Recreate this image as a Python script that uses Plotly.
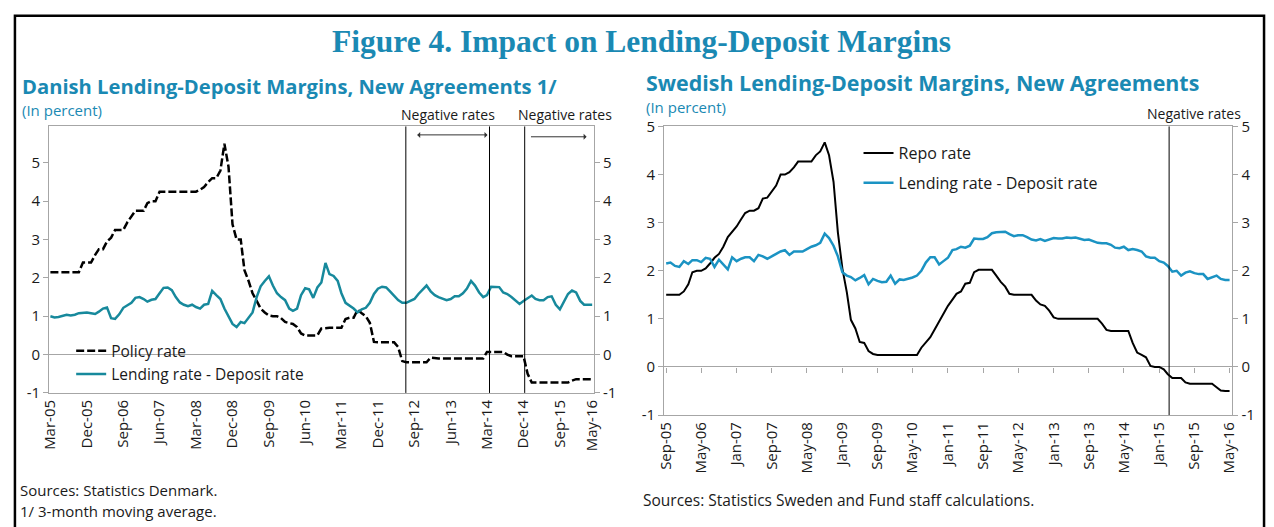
import pandas as pd
import plotly.graph_objects as go

# ---------------- data ----------------
dk_start = "2005-03-01"
dk_policy_rate = [
    2.15, 2.15, 2.15, 2.15, 2.15, 2.15, 2.15, 2.15, 2.4, 2.4,
    2.4, 2.6, 2.75, 2.75, 2.95, 3.05, 3.25, 3.25, 3.25, 3.45,
    3.6, 3.75, 3.75, 3.75, 3.95, 4.0, 4.0, 4.25, 4.25, 4.25,
    4.25, 4.25, 4.25, 4.25, 4.25, 4.25, 4.25, 4.3, 4.37, 4.5,
    4.6, 4.6, 4.8, 5.5, 4.9, 3.4, 3.0, 3.0, 2.2, 1.92,
    1.6, 1.4, 1.2, 1.1, 1.02, 1.0, 1.0, 0.95, 0.85, 0.82,
    0.8, 0.72, 0.55, 0.5, 0.5, 0.5, 0.5, 0.68, 0.7, 0.7,
    0.7, 0.7, 0.7, 0.93, 0.96, 0.96, 1.17, 1.08, 1.0, 0.83,
    0.33, 0.32, 0.32, 0.32, 0.32, 0.32, 0.2, -0.17, -0.2, -0.2,
    -0.2, -0.2, -0.2, -0.2, -0.08, -0.1, -0.1, -0.1, -0.1, -0.1,
    -0.1, -0.1, -0.1, -0.1, -0.1, -0.1, -0.1, -0.1, 0.07, 0.07,
    0.07, 0.07, 0.07, 0.0, -0.04, -0.04, -0.04, -0.04, -0.5, -0.73,
    -0.73, -0.73, -0.73, -0.73, -0.73, -0.73, -0.73, -0.73, -0.73, -0.68,
    -0.64, -0.64, -0.64, -0.64, -0.64,
]
dk_margin = [
    1.0, 0.97, 0.98, 1.02, 1.04, 1.02, 1.04, 1.08, 1.1, 1.1,
    1.08, 1.06, 1.12, 1.2, 1.23, 0.95, 0.93, 1.05, 1.22, 1.28,
    1.35, 1.48, 1.5, 1.45, 1.38, 1.43, 1.45, 1.6, 1.74, 1.75,
    1.68, 1.5, 1.36, 1.3, 1.26, 1.3, 1.24, 1.2, 1.3, 1.32,
    1.66, 1.55, 1.45, 1.2, 1.0, 0.8, 0.72, 0.85, 0.82, 0.95,
    1.1, 1.5, 1.78, 1.92, 2.04, 1.8, 1.6, 1.5, 1.42, 1.2,
    1.14, 1.2, 1.55, 1.73, 1.7, 1.48, 1.75, 1.88, 2.39, 2.1,
    2.05, 1.92, 1.6, 1.35, 1.28, 1.2, 1.1, 1.18, 1.22, 1.35,
    1.58, 1.72, 1.77, 1.75, 1.65, 1.52, 1.42, 1.35, 1.35, 1.4,
    1.45, 1.58, 1.7, 1.8, 1.65, 1.55, 1.5, 1.45, 1.42, 1.45,
    1.52, 1.52, 1.6, 1.72, 1.92, 1.8, 1.62, 1.5, 1.55, 1.77,
    1.77, 1.76, 1.62, 1.58, 1.5, 1.4, 1.32, 1.4, 1.48, 1.54,
    1.45, 1.42, 1.42, 1.5, 1.52, 1.3, 1.18, 1.38, 1.58, 1.67,
    1.62, 1.4, 1.3, 1.3, 1.3,
]
dk_tick_labels = ["Mar-05", "Dec-05", "Sep-06", "Jun-07", "Mar-08", "Dec-08",
                  "Sep-09", "Jun-10", "Mar-11", "Dec-11", "Sep-12", "Jun-13",
                  "Mar-14", "Dec-14", "Sep-15", "May-16"]
dk_negative_lines = ["2012-06-28", "2014-03-20", "2014-12-10"]

se_start = "2005-09-01"
se_repo_rate = [
    1.5, 1.5, 1.5, 1.5, 1.57, 1.72, 1.97, 2.0, 2.0, 2.05,
    2.15, 2.27, 2.35, 2.5, 2.7, 2.8, 2.92, 3.07, 3.2, 3.25,
    3.25, 3.3, 3.5, 3.52, 3.65, 3.77, 4.0, 4.0, 4.05, 4.15,
    4.27, 4.27, 4.27, 4.27, 4.4, 4.48, 4.67, 4.4, 3.85, 2.8,
    2.05, 1.55, 0.98, 0.8, 0.52, 0.5, 0.33, 0.27, 0.25, 0.25,
    0.25, 0.25, 0.25, 0.25, 0.25, 0.25, 0.25, 0.25, 0.4, 0.5,
    0.62, 0.78, 0.95, 1.1, 1.27, 1.4, 1.52, 1.57, 1.73, 1.75,
    1.97, 2.02, 2.02, 2.02, 2.02, 1.9, 1.77, 1.67, 1.52, 1.5,
    1.5, 1.5, 1.5, 1.5, 1.38, 1.3, 1.27, 1.17, 1.03, 1.0,
    1.0, 1.0, 1.0, 1.0, 1.0, 1.0, 1.0, 1.0, 1.0, 0.9,
    0.77, 0.75, 0.75, 0.75, 0.75, 0.75, 0.5, 0.3, 0.25, 0.2,
    0.02, 0.0, 0.0, -0.05, -0.15, -0.23, -0.23, -0.23, -0.32, -0.35,
    -0.35, -0.35, -0.35, -0.35, -0.35, -0.42, -0.49, -0.5, -0.5,
]
se_margin = [
    2.15, 2.17, 2.1, 2.08, 2.2, 2.14, 2.22, 2.22, 2.18, 2.27,
    2.25, 2.08, 2.23, 2.12, 2.03, 2.28, 2.2, 2.25, 2.28, 2.28,
    2.2, 2.33, 2.3, 2.25, 2.3, 2.35, 2.4, 2.43, 2.33, 2.4,
    2.4, 2.4, 2.45, 2.5, 2.53, 2.58, 2.77, 2.68, 2.52, 2.3,
    1.97, 1.9, 1.87, 1.8, 1.85, 1.91, 1.72, 1.83, 1.79, 1.76,
    1.77, 1.9, 1.73, 1.82, 1.81, 1.83, 1.86, 1.9, 2.0, 2.17,
    2.28, 2.28, 2.13, 2.2, 2.27, 2.43, 2.45, 2.5, 2.48, 2.52,
    2.67, 2.66, 2.66, 2.7, 2.78, 2.8, 2.8, 2.81, 2.76, 2.72,
    2.74, 2.74, 2.7, 2.65, 2.63, 2.66, 2.62, 2.65, 2.68, 2.67,
    2.67, 2.69, 2.68, 2.69, 2.67, 2.64, 2.65, 2.62, 2.58, 2.57,
    2.57, 2.54, 2.48, 2.47, 2.5, 2.43, 2.45, 2.43, 2.4, 2.3,
    2.27, 2.27, 2.2, 2.17, 2.1, 1.98, 2.0, 1.9, 1.96, 1.99,
    1.95, 1.93, 1.93, 1.83, 1.87, 1.9, 1.83, 1.81, 1.81,
]
se_tick_labels = ["Sep-05", "May-06", "Jan-07", "Sep-07", "May-08", "Jan-09",
                  "Sep-09", "May-10", "Jan-11", "Sep-11", "May-12", "Jan-13",
                  "Sep-13", "May-14", "Jan-15", "Sep-15", "May-16"]
se_negative_lines = ["2015-03-10"]
y_tick_vals = [-1, 0, 1, 2, 3, 4, 5]
y_tick_text = ["-1", "0", "1", "2", "3", "4", "5"]

# ---------------- styling ----------------
W, H = 1274, 527
TEAL_TITLE = "#1a89b3"
TEAL_DK = "#17899c"
TEAL_SE = "#1b93c3"
GRID = "#a6a6a6"
TXT = "#1a1a1a"
FONT = "Open Sans"


def px(x):
    return x / W


def py(y):
    return 1 - y / H


dk_dates = pd.date_range(dk_start, periods=len(dk_policy_rate), freq="MS")
se_dates = pd.date_range(se_start, periods=len(se_repo_rate), freq="MS")
dk_tick_vals = pd.to_datetime(dk_tick_labels, format="%b-%y")
se_tick_vals = pd.to_datetime(se_tick_labels, format="%b-%y")

fig = go.Figure()
# left chart: policy on (x, y), margin on (x, y2) so that both y axes are drawn
fig.add_trace(go.Scatter(x=dk_dates, y=dk_policy_rate, mode="lines", name="Policy rate",
                         line=dict(color="black", width=2.5, dash="8px,3px"),
                         xaxis="x", yaxis="y", legend="legend"))
fig.add_trace(go.Scatter(x=dk_dates, y=dk_margin, mode="lines", name="Lending rate - Deposit rate",
                         line=dict(color=TEAL_DK, width=2.5),
                         xaxis="x", yaxis="y2", legend="legend"))
# right chart: repo on (x3, y3) main subplot, margin on overlay (x4, y4)
fig.add_trace(go.Scatter(x=se_dates, y=se_repo_rate, mode="lines", name="Repo rate",
                         line=dict(color="black", width=2),
                         xaxis="x3", yaxis="y3", legend="legend2", legendgroup="a"))
fig.add_trace(go.Scatter(x=se_dates, y=se_margin, mode="lines", name="Lending rate - Deposit rate",
                         line=dict(color=TEAL_SE, width=2.5),
                         xaxis="x4", yaxis="y4", legend="legend2", legendgroup="b"))

tickfont = dict(family=FONT, size=15, color=TXT)
dk_dom_x = [px(39.6), px(591.8)]
dk_dom_y = [py(397), py(120)]
se_dom_x = [px(663), px(1239)]
se_dom_y = [py(420), py(120)]
dk_range = [-1, 5.95]
se_range = [-1, 5]
dk_xrange = ["2005-02-19", "2016-05-14"]
se_xrange = ["2005-08-18", "2016-05-21"]

common_y = dict(tickvals=y_tick_vals, ticktext=y_tick_text, showgrid=False, showline=True,
                linecolor=GRID, linewidth=1, ticks="outside", ticklen=5, tickcolor=GRID,
                tickfont=tickfont, fixedrange=True)

zero_pos = se_dom_y[0] + (se_dom_y[1] - se_dom_y[0]) * (0 - se_range[0]) / (se_range[1] - se_range[0])

fig.update_layout(
    width=W, height=H, autosize=False,
    margin=dict(l=0, r=0, t=0, b=0),
    paper_bgcolor="white", plot_bgcolor="white",
    font=dict(family=FONT, color=TXT),
    hovermode=False,
    xaxis=dict(domain=dk_dom_x, anchor="y", type="date", range=dk_xrange,
               tickvals=dk_tick_vals, ticktext=dk_tick_labels, tickangle=-90,
               showgrid=False, showline=True, linecolor=GRID, mirror=True,
               ticks="", tickfont=tickfont, fixedrange=True),
    yaxis=dict(domain=dk_dom_y, anchor="x", range=dk_range,
               zeroline=True, zerolinecolor=GRID, zerolinewidth=1, **common_y),
    yaxis2=dict(domain=dk_dom_y, anchor="x", overlaying="y", side="right",
                range=dk_range, zeroline=False, **common_y),
    xaxis3=dict(domain=se_dom_x, anchor="y3", type="date", range=se_xrange,
                tickvals=se_tick_vals, ticktext=se_tick_labels, tickangle=-90,
                showgrid=False, showline=True, linecolor=GRID, mirror=True,
                ticks="", tickfont=tickfont, fixedrange=True),
    xaxis4=dict(domain=se_dom_x, anchor="free", overlaying="x3", type="date",
                position=zero_pos, range=se_xrange,
                tickvals=se_tick_vals, showticklabels=False, showgrid=False,
                showline=False, ticks="outside", ticklen=5, tickcolor=GRID, fixedrange=True),
    yaxis3=dict(domain=se_dom_y, anchor="x3", range=se_range,
                zeroline=True, zerolinecolor=GRID, zerolinewidth=1, **common_y),
    yaxis4=dict(domain=se_dom_y, anchor="x3", overlaying="y3", side="right",
                range=se_range, zeroline=False, **common_y),
    legend=dict(x=px(62), y=py(336), xanchor="left", yanchor="top",
                bgcolor="rgba(0,0,0,0)", font=dict(family=FONT, size=15.5, color=TXT),
                tracegroupgap=0, itemwidth=30),
    legend2=dict(x=px(860), y=py(130), xanchor="left", yanchor="top",
                 bgcolor="rgba(0,0,0,0)", font=dict(family=FONT, size=16, color=TXT),
                 tracegroupgap=6, itemwidth=30),
    showlegend=True,
)

shapes = []
for d in dk_negative_lines:
    shapes.append(dict(type="line", xref="x", yref="paper", x0=d, x1=d,
                       y0=dk_dom_y[0], y1=dk_dom_y[1], line=dict(color="black", width=1)))
for d in se_negative_lines:
    shapes.append(dict(type="line", xref="x3", yref="paper", x0=d, x1=d,
                       y0=se_dom_y[0], y1=se_dom_y[1], line=dict(color="black", width=1)))
# outer frame
shapes.append(dict(type="rect", xref="paper", yref="paper", x0=px(5), x1=px(1271),
                   y0=-0.02, y1=py(5), line=dict(color="black", width=2.5)))
fig.update_layout(shapes=shapes)

ann = []


def text(x, y, s, size=14, color=TXT, xanchor="left", family=FONT):
    ann.append(dict(x=px(x), y=py(y), xref="paper", yref="paper", text=s, showarrow=False,
                    xanchor=xanchor, yanchor="middle", font=dict(family=family, size=size, color=color)))


text(640, 32, "<b>Figure 4. Impact on Lending-Deposit Margins</b>", size=31.5, color=TEAL_TITLE,
     xanchor="center", family="Liberation Serif")
text(10, 78, "<b>Danish Lending-Deposit Margins, New Agreements 1/</b>", size=20.2, color=TEAL_TITLE)
text(10, 103, "(In percent)", size=15, color=TEAL_TITLE)
text(643, 74, "<b>Swedish Lending-Deposit Margins, New Agreements</b>", size=21.4, color=TEAL_TITLE)
text(643, 100, "(In percent)", size=15, color=TEAL_TITLE)
text(444, 108, "Negative rates", size=14, xanchor="center")
text(563, 108, "Negative rates", size=14, xanchor="center")
text(1200, 107, "Negative rates", size=14, xanchor="center")
text(8, 498, "Sources: Statistics Denmark.", size=15)
text(8, 520, "1/ 3-month moving average.", size=15)
text(640, 508, "Sources: Statistics Sweden and Fund staff calculations.", size=15.5)

# arrows
ann.append(dict(x="2014-03-05", y=5.73, ax="2012-09-10", ay=5.73, xref="x", yref="y",
                axref="x", ayref="y", text="", showarrow=True, arrowhead=1, startarrowhead=1,
                arrowside="end+start", arrowsize=1, arrowwidth=1, arrowcolor="#333333"))
ann.append(dict(x="2016-03-20", y=5.68, ax="2015-01-15", ay=5.68, xref="x", yref="y",
                axref="x", ayref="y", text="", showarrow=True, arrowhead=1,
                arrowsize=1, arrowwidth=1, arrowcolor="#333333"))
fig.update_layout(annotations=ann)

fig.write_html(
    "out.html",
    config=dict(displayModeBar=False, staticPlot=True),
    post_script="document.body.style.margin='0';document.body.style.padding='0';"
                "document.documentElement.style.overflow='hidden';"
                "var gd=document.getElementById('{plot_id}');"
                "gd.style.position='fixed';gd.style.left='0px';gd.style.top='0px';",
)
